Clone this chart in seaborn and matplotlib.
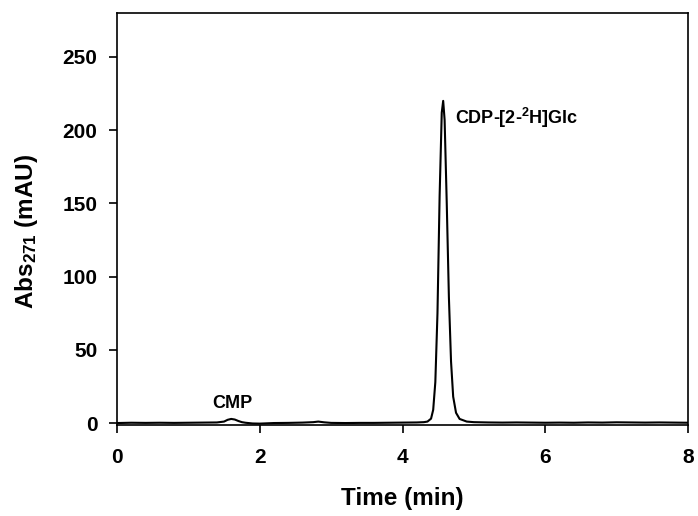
import matplotlib
matplotlib.use("Agg")
import matplotlib.pyplot as plt
import seaborn as sns
import pandas as pd

time_min = [0.0, 0.2, 0.4, 0.6, 0.8, 1.0, 1.2, 1.4, 1.5, 1.55, 1.6, 1.65, 1.7, 1.75,
            1.8, 1.9, 2.0, 2.2, 2.4, 2.6, 2.75, 2.82, 2.9, 3.0, 3.2, 3.4, 3.6, 3.8,
            4.0, 4.2, 4.3, 4.35, 4.40, 4.43, 4.46, 4.49, 4.52, 4.55, 4.57, 4.59,
            4.62, 4.65, 4.68, 4.71, 4.75, 4.80, 4.90, 5.0, 5.2, 5.4, 5.6, 5.8,
            6.0, 6.2, 6.4, 6.6, 6.8, 7.0, 7.2, 7.4, 7.6, 7.8, 8.0]
abs_mau = [0.0, 0.2, 0.1, 0.2, 0.1, 0.2, 0.3, 0.4, 1.0, 2.2, 2.8, 2.4, 1.4, 0.6,
           0.2, -0.3, -0.4, 0.0, 0.1, 0.3, 0.6, 1.0, 0.5, 0.1, 0.0, 0.1, 0.1, 0.2,
           0.3, 0.4, 0.6, 1.0, 3.0, 9.0, 28.0, 75.0, 155.0, 212.0, 220.0, 207.0,
           150.0, 86.0, 42.0, 18.0, 7.0, 2.8, 1.0, 0.6, 0.4, 0.3, 0.4, 0.3,
           0.2, 0.3, 0.2, 0.4, 0.3, 0.5, 0.4, 0.3, 0.4, 0.3, 0.2]

x_ticks = [0, 2, 4, 6, 8]
y_ticks = [0, 50, 100, 150, 200, 250]
peak_labels = ["CMP", r"CDP-[2-$^{2}$H]Glc"]

sns.set_style("ticks")
plt.rcParams['font.family'] = ['Liberation Sans', 'DejaVu Sans']
plt.rcParams['mathtext.fontset'] = 'custom'
plt.rcParams['mathtext.rm'] = 'Liberation Sans:bold'
plt.rcParams['mathtext.it'] = 'Liberation Sans:bold'
plt.rcParams['mathtext.bf'] = 'Liberation Sans:bold'
plt.rcParams['mathtext.default'] = 'rm'
for k in ['text.color', 'axes.labelcolor', 'xtick.color', 'ytick.color', 'axes.edgecolor']:
    plt.rcParams[k] = 'black'

df = pd.DataFrame({"Time": time_min, "Abs": abs_mau})

fig = plt.figure(figsize=(6.98, 5.16), dpi=100)
ax = fig.add_axes([117/698, 1 - 424.5/516, (688 - 117)/698, (424.5 - 13)/516])

sns.lineplot(data=df, x="Time", y="Abs", ax=ax, color="black", linewidth=1.5)

ax.set_xlim(0, 8)
ax.set_ylim(-1, 280)
ax.set_xticks(x_ticks)
ax.set_yticks(y_ticks)
ax.set_xticklabels([str(v) for v in x_ticks], fontsize=15, fontweight='bold')
ax.set_yticklabels([str(v) for v in y_ticks], fontsize=15, fontweight='bold')
ax.tick_params(direction='out', length=6, width=1.2, color='black')
ax.tick_params(axis='x', pad=11)
ax.tick_params(axis='y', pad=8)
for s in ax.spines.values():
    s.set_visible(True)
    s.set_linewidth(1.2)
    s.set_color('black')

ax.set_xlabel("Time (min)", fontsize=17.5, fontweight='bold', labelpad=14)
ax.set_ylabel(r"Abs$_{271}$ (mAU)", fontsize=17.5, fontweight='bold', labelpad=14)
ax.yaxis.set_label_coords(-0.135, 0.47)

ax.text(1.62, 13.5, peak_labels[0], fontsize=13, fontweight='bold', ha='center', va='center')
ax.text(4.73, 208, peak_labels[1], fontsize=13, fontweight='bold', ha='left', va='center')

fig.savefig("out.png", dpi=100)
